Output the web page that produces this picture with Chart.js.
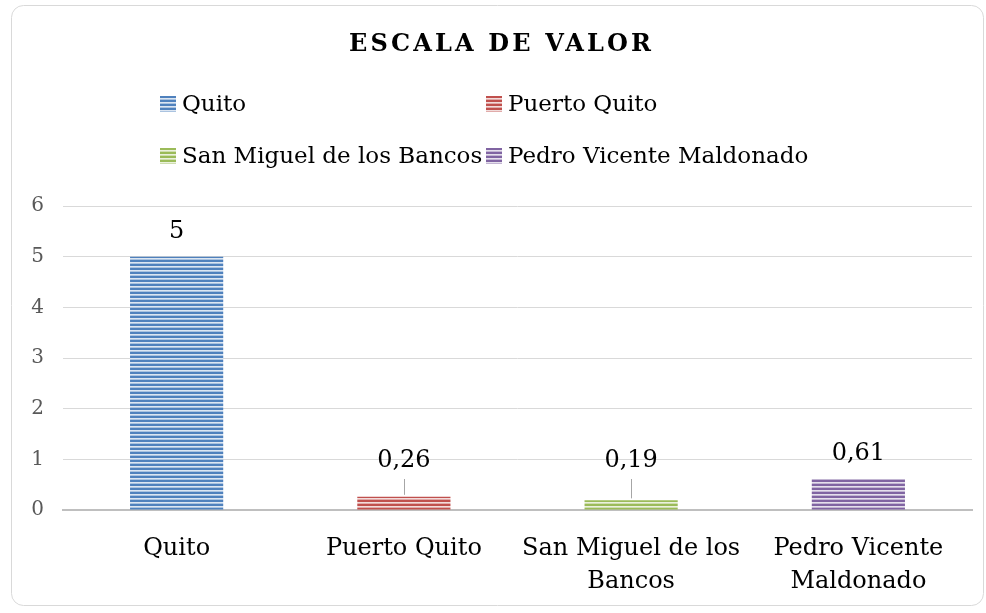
<!DOCTYPE html>
<html>
<head>
<meta charset="utf-8">
<script src="https://cdn.jsdelivr.net/npm/chart.js@4.4.0/dist/chart.umd.min.js"></script>
<style>
  html, body { margin: 0; padding: 0; background: #ffffff; }
  #wrap { position: absolute; left: 0; top: 0; width: 986px; height: 613px; }
</style>
</head>
<body>
<div id="wrap"><canvas id="c" width="986" height="613"></canvas></div>
<script>
const chartTitle = "ESCALA DE VALOR";
const categories = ["Quito", "Puerto Quito", "San Miguel de los Bancos", "Pedro Vicente Maldonado"];
const tickLabels = [["Quito"], ["Puerto Quito"], ["San Miguel de los", "Bancos"], ["Pedro Vicente", "Maldonado"]];
const values = [5, 0.26, 0.19, 0.61];
const valueLabels = ["5", "0,26", "0,19", "0,61"];
const yTicks = [0, 1, 2, 3, 4, 5, 6];
const darkColors = ["#4f81bd", "#c0504d", "#9bbb59", "#8064a2"];
const lightColors = ["#dce6f2", "#f2dcdb", "#ebf1de", "#e5e0ec"];

const FONT = "'DejaVu Serif', 'Liberation Serif', serif";

function makePattern(dark, light) {
  const p = document.createElement('canvas');
  p.width = 8; p.height = 4;
  const g = p.getContext('2d');
  g.fillStyle = dark; g.fillRect(0, 0, 8, 4);
  g.fillStyle = light; g.fillRect(0, 2, 8, 1);
  g.globalAlpha = 0.65; g.fillRect(0, 3, 8, 1);
  return document.getElementById('c').getContext('2d').createPattern(p, 'repeat');
}
const patterns = darkColors.map((d, i) => makePattern(d, lightColors[i]));

const decorPlugin = {
  id: 'decor',
  beforeDraw(chart) {
    const ctx = chart.ctx;
    ctx.save();
    ctx.strokeStyle = '#d9d9d9';
    ctx.lineWidth = 1;
    ctx.beginPath();
    ctx.roundRect(11.5, 5.5, 972, 600, 12);
    ctx.stroke();
    ctx.restore();
  },
  afterDraw(chart) {
    const ctx = chart.ctx;
    ctx.save();
    // title
    ctx.fillStyle = '#000000';
    ctx.font = "bold 24px " + FONT;
    ctx.textBaseline = 'middle';
    ctx.letterSpacing = '0px';
    const w0 = ctx.measureText(chartTitle).width;
    const ls = (302 - w0) / (chartTitle.length - 1);
    ctx.letterSpacing = ls + 'px';
    ctx.textAlign = 'left';
    ctx.fillText(chartTitle, 500 - 151, 45);
    ctx.letterSpacing = '0px';
    // legend
    ctx.font = "23px " + FONT;
    const cols = [160, 486];
    const rows = [104, 156];
    categories.forEach((name, i) => {
      const x = cols[i % 2], y = rows[Math.floor(i / 2)];
      ctx.fillStyle = patterns[i];
      ctx.fillRect(x, y - 8, 16, 16);
      ctx.fillStyle = '#000000';
      ctx.textAlign = 'left';
      ctx.fillText(name, x + 22, y + 1);
    });
    // value labels
    const meta = chart.getDatasetMeta(0);
    const yScale = chart.scales.y;
    const y0 = yScale.getPixelForValue(0);
    ctx.font = "24px " + FONT;
    ctx.textAlign = 'center';
    meta.data.forEach((bar, i) => {
      const top = bar.y;
      const natural = top - 26;
      const ly = Math.min(natural, y0 - 50);
      if (natural - ly > 8) {
        ctx.strokeStyle = '#a6a6a6';
        ctx.lineWidth = 1;
        ctx.beginPath();
        ctx.moveTo(Math.round(bar.x) + 0.5, ly + 19);
        ctx.lineTo(Math.round(bar.x) + 0.5, top - 2);
        ctx.stroke();
      }
      ctx.fillStyle = '#000000';
      ctx.fillText(valueLabels[i], bar.x, ly + 1);
    });
    ctx.restore();
  }
};

new Chart(document.getElementById('c'), {
  type: 'bar',
  data: {
    labels: tickLabels,
    datasets: [{
      label: chartTitle,
      data: values,
      backgroundColor: patterns,
      borderWidth: 0,
      categoryPercentage: 1,
      barPercentage: 0.41
    }]
  },
  options: {
    responsive: false,
    animation: false,
    devicePixelRatio: 1,
    layout: { padding: { top: 206, right: 14, left: 0, bottom: 0 } },
    plugins: { legend: { display: false }, title: { display: false }, tooltip: { enabled: false } },
    scales: {
      x: {
        grid: { display: false, drawTicks: false },
        border: { display: true, color: '#bfbfbf', width: 2 },
        ticks: { color: '#000000', font: { family: FONT, size: 24, lineHeight: 1.375 }, padding: 22, maxRotation: 0, autoSkip: false },
        afterFit(s) { s.height = 103; }
      },
      y: {
        min: 0, max: 6,
        afterBuildTicks(s) { s.ticks = yTicks.map(v => ({ value: v })); },
        grid: { color: '#d9d9d9', drawTicks: false },
        border: { display: false },
        ticks: { color: '#595959', font: { family: FONT, size: 20 }, padding: 19 },
        afterFit(s) { s.width = 63; }
      }
    }
  },
  plugins: [decorPlugin]
});
</script>
</body>
</html>
